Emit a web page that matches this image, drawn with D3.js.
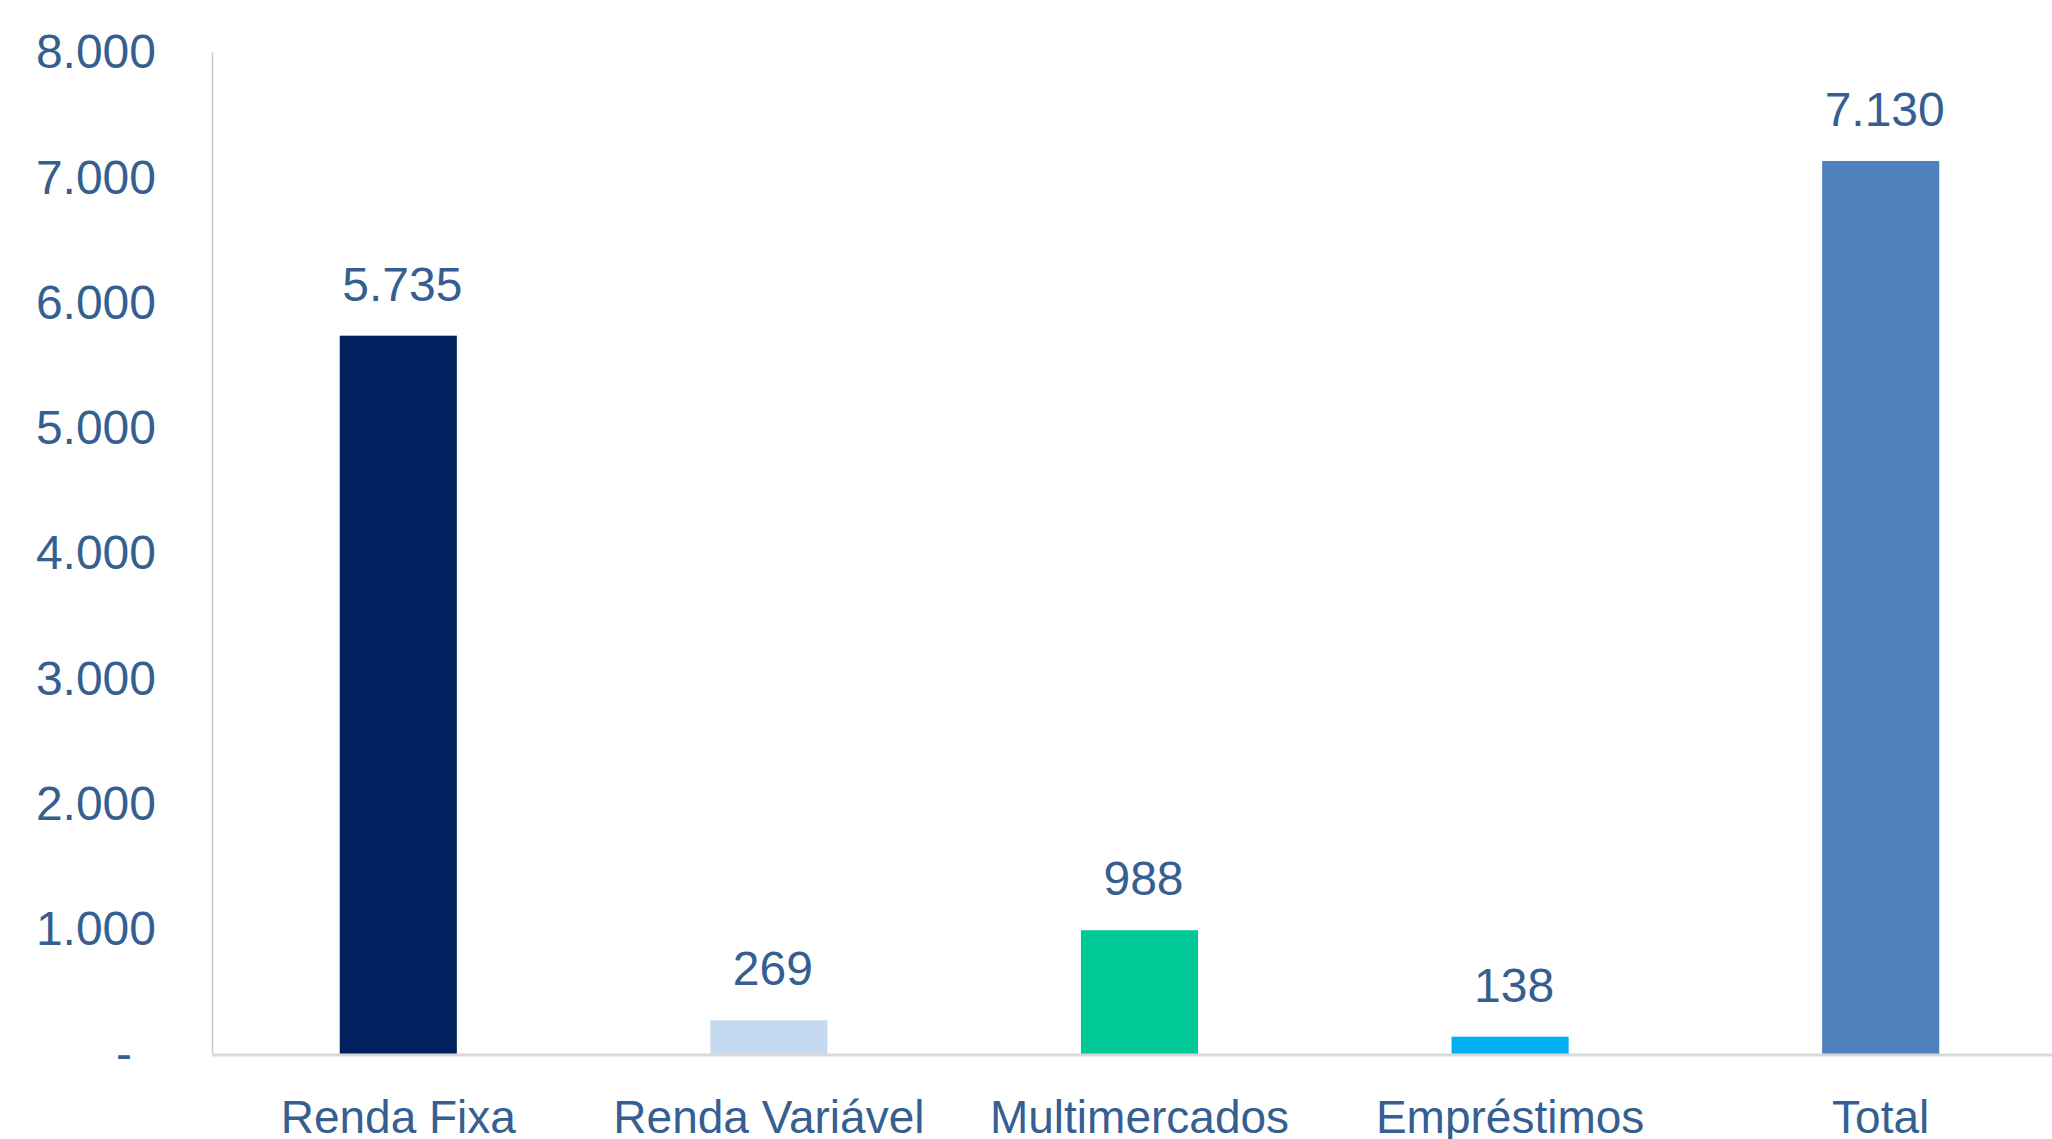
<!DOCTYPE html>
<html>
<head>
<meta charset="utf-8">
<script src="https://cdn.jsdelivr.net/npm/d3@7"></script>
<style>
  body { margin: 0; background: #fff; overflow: hidden; }
  text { font-family: "Liberation Sans", Arial, sans-serif; }
</style>
</head>
<body>
<script>
// data
const categories = ["Renda Fixa", "Renda Variável", "Multimercados", "Empréstimos", "Total"];
const values = [5735, 269, 988, 138, 7130];
const barColors = ["#03215e", "#c5d9f1", "#00c896", "#00b0f0", "#4f81bd"];
const yTicks = [0, 1000, 2000, 3000, 4000, 5000, 6000, 7000, 8000];

const width = 2052, height = 1139;
// plot runs slightly past the right edge, as in the original
const margin = { top: 52, right: -14, bottom: 85, left: 213 };
const textColor = "#365f91";

const fmt = d => d3.format(",")(d).replace(/,/g, ".");

var svg = d3.select("body")
    .append("svg")
    .attr("width", width)
    .attr("height", height);

const xScale = d3.scaleBand()
    .domain(categories)
    .range([margin.left, width - margin.right])
    .paddingInner(0.684)
    .paddingOuter(0.342);

const yScale = d3.scaleLinear()
    .domain([0, 8000])
    .range([height - margin.bottom, margin.top]);

// y axis: gray line, no ticks
const yAxis = d3.axisLeft(yScale)
    .tickValues(yTicks)
    .tickSize(0)
    .tickPadding(56)
    .tickFormat(d => d === 0 ? "-" : fmt(d));

const yAxisGroup = svg.append("g")
    .attr("class", "y axis")
    .attr("transform", `translate(${margin.left - 1},0)`)
    .call(yAxis);

yAxisGroup.select(".domain").attr("stroke", "#c8c8c8").attr("stroke-width", 1.5);
yAxisGroup.selectAll("text")
    .attr("fill", textColor)
    .style("font-size", "48px")
    .attr("dy", "0.33em")
    .attr("dx", d => d === 0 ? -24 : 0);

// bars
const rows = categories.map((c, i) => ({ cat: c, value: values[i], color: barColors[i] }));

svg.selectAll(".bar")
    .data(rows).enter().append("rect")
    .attr("class", "bar")
    .attr("x", d => xScale(d.cat))
    .attr("width", xScale.bandwidth())
    .attr("y", d => yScale(d.value))
    .attr("height", d => yScale(0) - yScale(d.value))
    .attr("fill", d => d.color);

// value labels
svg.selectAll(".valueLabel")
    .data(rows).enter().append("text")
    .attr("class", "valueLabel")
    .attr("x", d => xScale(d.cat) + xScale.bandwidth() / 2 + 4)
    .attr("y", d => yScale(d.value) - 35)
    .attr("text-anchor", "middle")
    .attr("fill", textColor)
    .style("font-size", "48px")
    .text(d => fmt(d.value));

// x axis: thick light gray baseline, labels below
const xAxis = d3.axisBottom(xScale).tickSize(0).tickPadding(45);
const xAxisGroup = svg.append("g")
    .attr("class", "x axis")
    .attr("transform", `translate(0,${yScale(0) + 1})`)
    .call(xAxis);

xAxisGroup.select(".domain")
    .attr("d", `M${margin.left - 1},0H${width}`)
    .attr("stroke", "#d9d9d9")
    .attr("stroke-width", 3);
xAxisGroup.selectAll("text")
    .attr("fill", textColor)
    .style("font-size", "46px");
</script>
</body>
</html>
